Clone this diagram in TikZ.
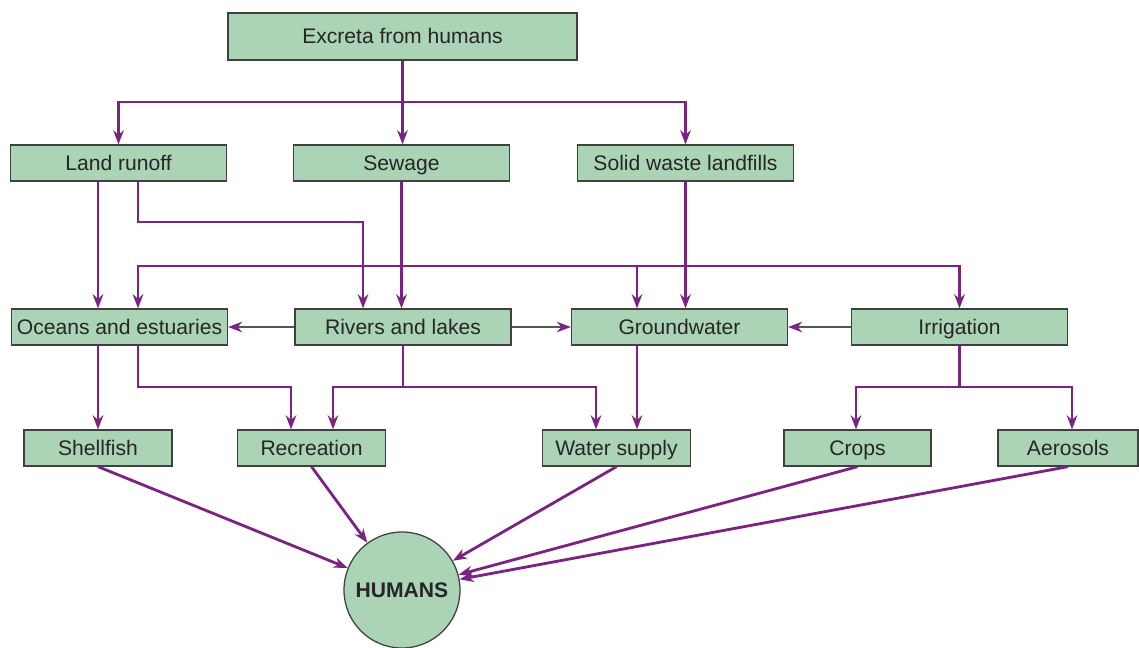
\documentclass[tikz,border=0pt]{standalone}
\usepackage{fontspec}
\setmainfont{Liberation Sans}
\usepackage{tikz}
\usetikzlibrary{positioning, arrows.meta}

\definecolor{boxgreen}{HTML}{ABD3B5}
\definecolor{flowpurple}{HTML}{7B2383}
\definecolor{sidegray}{HTML}{555555}

\begin{document}
\begin{tikzpicture}[
    x=0.025cm,
    y=-0.025cm,
    box/.style={
        rectangle,
        draw=black!75,
        line width=0.9pt,
        fill=boxgreen,
        inner sep=0pt,
        minimum height=0.9cm,
        minimum width=5.4cm,
        text height=12pt,
        text depth=2pt,
        text=black!85,
        font=\fontsize{15}{18}\selectfont
    },
    smallbox/.style={box, minimum width=3.7cm},
    flow/.style={flowpurple, line width=2pt,
        -{Stealth[length=10pt, width=7.5pt]}},
    side/.style={sidegray, line width=1.1pt,
        -{Stealth[length=10pt, width=7.5pt, color=flowpurple]}}
]
\useasboundingbox (0,0) rectangle (1139,647);

% sources
\node[box, minimum width=8.725cm, minimum height=1.175cm] (excreta) at (402.5,36.5) {Excreta from humans};
\node[box] (land) at (118.5,163) {Land runoff};
\node[box] (sewage) at (401.5,163) {Sewage};
\node[box] (solid) at (685.5,163) {Solid waste landfills};

% waters
\node[box] (oceans) at (119.5,327) {Oceans and estuaries};
\node[box] (rivers) at (403,327) {Rivers and lakes};
\node[box] (ground) at (679.5,327) {Groundwater};
\node[box] (irrig) at (959.5,327) {Irrigation};

% routes
\node[smallbox] (shellfish) at (98,448) {Shellfish};
\node[smallbox] (recreation) at (311.5,448) {Recreation};
\node[smallbox] (water) at (616.5,448) {Water supply};
\node[smallbox, minimum width=3.675cm] (crops) at (857.5,448) {Crops};
\node[smallbox, minimum width=3.5cm] (aerosols) at (1068,448) {Aerosols};

\node[circle, draw=black!75, line width=0.9pt, fill=boxgreen, minimum size=2.9cm,
      inner sep=0pt, font=\fontsize{15}{18}\selectfont\bfseries, text=black!85]
      (humans) at (402,590) {HUMANS};

% excreta
\coordinate (exsplit) at (excreta.south |- 0,102);
\draw[flow] (excreta.south) -- (excreta.south |- sewage.north);
\draw[flow] (exsplit) -| (land.north);
\draw[flow] (exsplit) -| (solid.north);

% land runoff
\draw[flow] (land.south -| 98,0) -- (oceans.north -| 98,0);
\draw[flow] (land.south -| 138,0) |- (363,222) -- (rivers.north -| 363,0);

% sewage
\coordinate (sewsplit) at (sewage.south |- 0,266);
\draw[flow] (sewage.south) -- (sewage.south |- rivers.north);
\draw[flow] (sewsplit) -| (oceans.north -| 138,0);
\draw[flow] (sewsplit) -| (ground.north -| 637,0);
\draw[flow] (sewsplit) -| (irrig.north);

% landfills
\draw[flow] (solid.south) -- (solid.south |- ground.north);

% between waters
\draw[side] (rivers.west) -- (oceans.east);
\draw[side] (rivers.east) -- (ground.west);
\draw[side] (irrig.west) -- (ground.east);

% oceans
\draw[flow] (oceans.south -| shellfish.north) -- (shellfish.north);
\draw[flow] (oceans.south -| 138,0) |- (291,387) -- (recreation.north -| 291,0);

% rivers
\coordinate (rivsplit) at (rivers.south |- 0,387);
\draw[flow] (rivers.south) -- (rivsplit) -| (recreation.north -| 333,0);
\draw[flow] (rivsplit) -| (water.north -| 596,0);

% groundwater
\draw[flow] (ground.south -| 637,0) -- (water.north -| 637,0);

% irrigation
\coordinate (irsplit) at (irrig.south |- 0,387);
\draw[flow] (irrig.south) -- (irsplit) -| (crops.north -| 856,0);
\draw[flow] (irsplit) -| (aerosols.north -| 1072,0);

% to humans
\draw[flow] (shellfish.south) -- (humans);
\draw[flow] (recreation.south) -- (humans);
\draw[flow] (water.south) -- (humans);
\draw[flow] (crops.south) -- (humans);
\draw[flow] (aerosols.south) -- (humans);

\end{tikzpicture}
\end{document}
